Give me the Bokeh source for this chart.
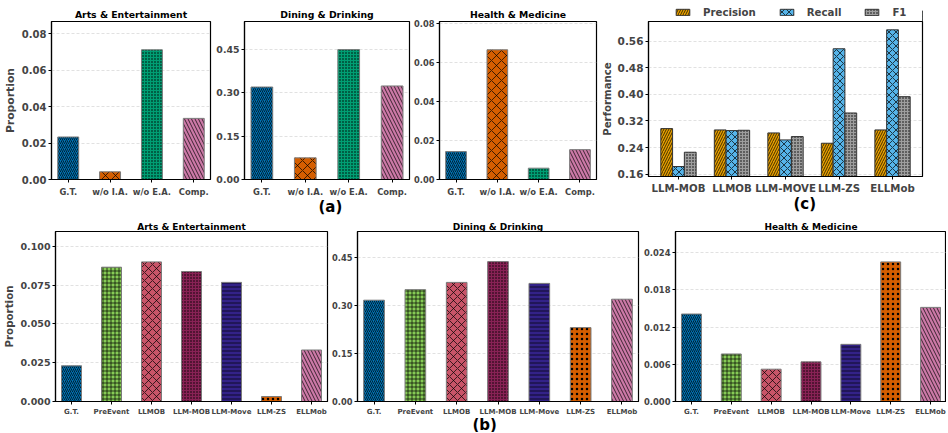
from bokeh.plotting import figure
from bokeh.models import (Range1d, FixedTicker, SingleIntervalTicker, NumeralTickFormatter,
                          Title, Legend, LegendItem, ColumnDataSource)
from bokeh.layouts import column, row
from bokeh.core.properties import value
from bokeh.embed import file_html
from bokeh.resources import INLINE
from bokeh.transform import dodge

FONT = "DejaVu Sans"

# ---------------- data ----------------
# (a) ablation
a_labels = ["G.T.", "w/o I.A.", "w/o E.A.", "Comp."]
a_arts = [0.0233, 0.0042, 0.0711, 0.0335]
a_dining = [0.319, 0.0746, 0.448, 0.3226]
a_health = [0.0143, 0.0665, 0.0058, 0.0153]
a_colors = ["#0072B2", "#D55E00", "#009E73", "#CC79A7"]
a_hatch = ["/", "x", ".", "\\"]
a_hscale = [4, 10, 3, 7]

# (b) baselines
b_labels = ["G.T.", "PreEvent", "LLMOB", "LLM-MOB", "LLM-Move", "LLM-ZS", "ELLMob"]
b_arts = [0.0230, 0.0866, 0.0900, 0.0838, 0.0768, 0.0032, 0.0332]
b_dining = [0.3176, 0.3507, 0.3734, 0.4386, 0.3703, 0.2317, 0.3207]
b_health = [0.0141, 0.00766, 0.00521, 0.00639, 0.00921, 0.0225, 0.01517]
b_colors = ["#0072B2", "#86CB55", "#C85468", "#882255", "#332288", "#D55E00", "#CC79A7"]
b_hatch = ["/", "+", "x", ".", "-", ".", "\\"]
b_hscale = [4, 4, 8, 3, 4, 5, 7]

# (c) performance
c_models = ["LLM-MOB", "LLMOB", "LLM-MOVE", "LLM-ZS", "ELLMob"]
c_precision = [0.297, 0.293, 0.284, 0.253, 0.293]
c_recall = [0.183, 0.291, 0.263, 0.537, 0.594]
c_f1 = [0.226, 0.292, 0.273, 0.344, 0.393]
c_series = ["Precision", "Recall", "F1"]
c_fields = ["precision", "recall", "f1"]
c_colors = ["#E69F00", "#56B4E9", "#9E9E9E"]
c_hatch = ["/", "x", "."]
c_hscale = [5, 7, 3]
c_offsets = [-0.22, 0.0, 0.22]


def base_fig(w, h, l, r, t, b, xr, yr, ytick, yfmt, ysize, xsize, xstand):
    p = figure(width=w, height=h, x_range=Range1d(*xr), y_range=Range1d(*yr),
               output_backend="svg", toolbar_location=None, title=None,
               min_border_left=l, min_border_right=r, min_border_top=t, min_border_bottom=b)
    p.background_fill_color = "white"
    p.border_fill_color = "white"
    p.outline_line_color = "black"
    p.outline_line_width = 1.2
    p.xgrid.visible = False
    p.ygrid.grid_line_color = "#d4d4d4"
    p.ygrid.grid_line_dash = "3 2"
    p.ygrid.grid_line_width = 0.7
    p.yaxis.ticker = SingleIntervalTicker(interval=ytick)
    p.yaxis.formatter = NumeralTickFormatter(format=yfmt)
    for ax, size, stand in ((p.xaxis[0], xsize, xstand), (p.yaxis[0], ysize, 1)):
        ax.axis_line_color = "black"
        ax.axis_line_width = 1.2
        ax.major_tick_line_color = "black"
        ax.major_tick_line_width = 1
        ax.major_tick_in = 0
        ax.major_tick_out = 3
        ax.minor_tick_line_color = None
        ax.major_label_text_font = FONT
        ax.major_label_text_font_style = "bold"
        ax.major_label_text_font_size = size
        ax.major_label_standoff = stand
        ax.axis_label_text_font = FONT
        ax.axis_label_text_font_style = "bold"
        ax.axis_label_standoff = 2
    return p


def add_title(p, text, size, side="above", align="center", offset=0, standoff=1, valign="bottom"):
    p.add_layout(Title(text=text, align=align, offset=offset, standoff=standoff,
                       vertical_align=valign, text_font=FONT, text_font_style="bold",
                       text_font_size=size, text_color="black"), side)


def bar_panel(w, h, l, r, t, b, labels, vals, colors, hatches, hscale, yr, ytick, yfmt,
              ysize, xsize, xstand, title, tsize, tstand, xend=None):
    n = len(labels)
    xr = (-0.4, (n - 0.6) if xend is None else xend)
    p = base_fig(w, h, l, r, t, b, xr, yr, ytick, yfmt, ysize, xsize, xstand)
    p.xaxis.ticker = FixedTicker(ticks=list(range(n)))
    p.xaxis.major_label_overrides = {i: s for i, s in enumerate(labels)}
    src = ColumnDataSource(dict(x=list(range(n)), top=vals, color=colors,
                                hatch=hatches, hs=hscale))
    p.vbar(x="x", top="top", bottom=0, width=0.5, source=src, fill_color="color",
           line_color="#7a7a7a", line_width=1, hatch_pattern="hatch", hatch_scale="hs",
           hatch_color="black", hatch_weight=0.7)
    add_title(p, title, tsize, standoff=tstand)
    return p


TOP_H, BOT_H = 216, 216
LEG_H = 21

# ---- top row ----
p1 = bar_panel(212, TOP_H, 47, 2, 21, 37, a_labels, a_arts, a_colors, a_hatch, a_hscale,
               (0, 0.0866), 0.02, "0.00", "10px", "8.4px", 4, "Arts & Entertainment", "9.3px", 3)
p1.yaxis.axis_label = "Proportion"
p1.yaxis.axis_label_text_font_size = "10.8px"

p2 = bar_panel(199, TOP_H, 32, 2, 21, 37, a_labels, a_dining, a_colors, a_hatch, a_hscale,
               (0, 0.545), 0.15, "0.00", "9.4px", "8.4px", 4, "Dining & Drinking", "9.3px", 3)
add_title(p2, "(a)", "15px", side="below", align="left", offset=74, standoff=-3, valign="top")

p3 = bar_panel(187, TOP_H, 28, 2, 21, 37, a_labels, a_health, a_colors, a_hatch, a_hscale,
               (0, 0.081), 0.02, "0.00", "8.3px", "8.4px", 4, "Health & Medicine", "9.3px", 3)

# (c) plot
W4, L4, R4, B4 = 342, 46, 18, 40
p4 = base_fig(W4, TOP_H - LEG_H, L4, R4, 0, B4, (-0.56, 4.56), (0.153, 0.619), 0.08, "0.00",
              "10.5px", "10.2px", 3)
p4.xaxis.ticker = FixedTicker(ticks=list(range(len(c_models))))
p4.xaxis.major_label_overrides = {i: s for i, s in enumerate(c_models)}
p4.yaxis.axis_label = "Performance"
p4.yaxis.axis_label_text_font_size = "10.2px"
csrc = ColumnDataSource(dict(x=list(range(len(c_models))), precision=c_precision,
                             recall=c_recall, f1=c_f1))
bar_style = dict(line_color="#333333", line_width=1, hatch_color="black", hatch_weight=0.7)
for k in range(3):
    p4.vbar(x=dodge("x", c_offsets[k]), top=c_fields[k], bottom=0, width=0.22, source=csrc,
            fill_color=c_colors[k], hatch_pattern=c_hatch[k], hatch_scale=c_hscale[k], **bar_style)
add_title(p4, "(c)", "15px", side="below", align="left", offset=145, standoff=-3, valign="top")

# legend strip above (c); its frame is aligned with the (c) frame
leg = figure(width=W4, height=LEG_H, x_range=Range1d(0, 1), y_range=Range1d(0, 1),
             output_backend="svg", toolbar_location=None, title=None,
             min_border_left=0, min_border_right=0, min_border_top=0, min_border_bottom=0)
leg.axis.visible = False
leg.grid.visible = False
leg.outline_line_color = None
leg.background_fill_color = "white"
leg.border_fill_color = "white"
proxy = ColumnDataSource(dict(x=[5], top=[0.5]))  # outside the strip's range: legend swatches only
items = []
for k in range(3):
    rr = leg.vbar(x="x", top="top", width=0.1, source=proxy, fill_color=c_colors[k],
                  hatch_pattern=c_hatch[k], hatch_scale=c_hscale[k], **bar_style)
    items.append(LegendItem(label=value(c_series[k]), renderers=[rr]))
legend = Legend(items=items, orientation="horizontal", location=(26, 3.5), padding=0, margin=0,
                spacing=22, glyph_width=17, glyph_height=8, label_standoff=12, label_height=10,
                label_text_font=FONT, label_text_font_style="bold", label_text_font_size="10.2px",
                border_line_color=None, background_fill_alpha=0)
leg.add_layout(legend, "center")

# ---- bottom row ----
p5 = bar_panel(329, BOT_H, 52, 2, 15, 31, b_labels, b_arts, b_colors, b_hatch, b_hscale,
               (0, 0.1096), 0.025, "0.000", "9.5px", "7px", 3, "Arts & Entertainment", "9px", 0)
p5.yaxis.axis_label = "Proportion"
p5.yaxis.axis_label_text_font_size = "10.3px"

p6 = bar_panel(311, BOT_H, 28, 2, 15, 31, b_labels, b_dining, b_colors, b_hatch, b_hscale,
               (0, 0.533), 0.15, "0.00", "8.3px", "7px", 3, "Dining & Drinking", "9px", 0)
add_title(p6, "(b)", "15px", side="below", align="left", offset=115, standoff=-6, valign="top")

p7 = bar_panel(306, BOT_H, 35, 0, 15, 31, b_labels, b_health, b_colors, b_hatch, b_hscale,
               (0, 0.0274), 0.006, "0.000", "8.4px", "7px", 3, "Health & Medicine", "9px", 0,
               xend=6.4)

layout = column(row(p1, p2, p3, column(leg, p4)), row(p5, p6, p7))
open("out.html", "w").write(file_html(layout, INLINE))
